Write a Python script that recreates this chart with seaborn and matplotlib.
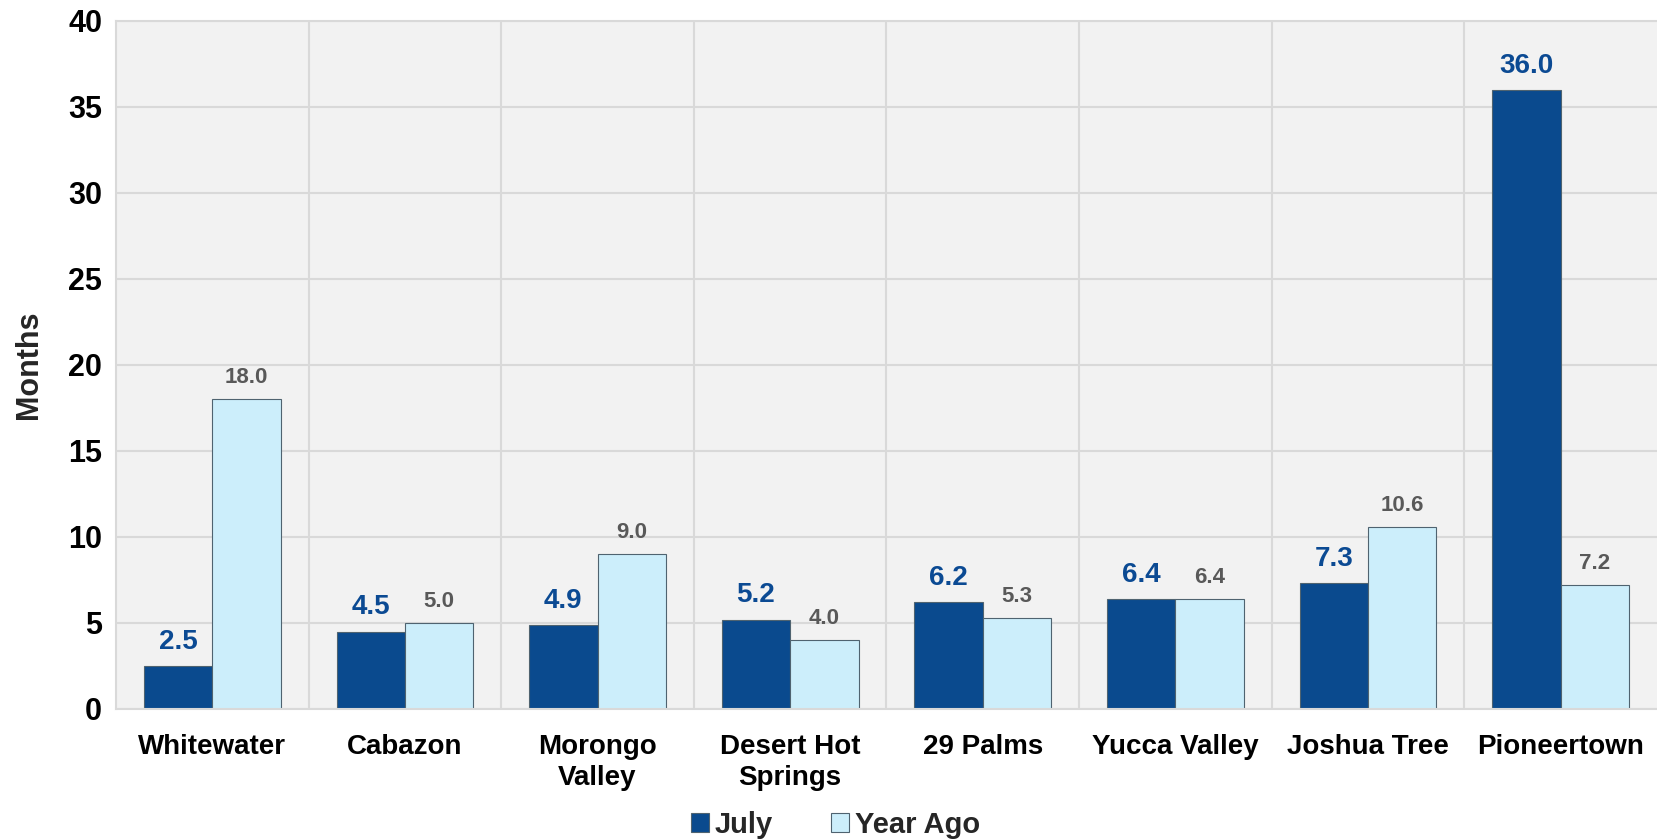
import matplotlib

matplotlib.use("Agg")
import matplotlib.pyplot as plt
import pandas as pd
import seaborn as sns

# --- data --------------------------------------------------------------------
areas = ["Whitewater", "Cabazon", "Morongo\nValley", "Desert Hot\nSprings",
         "29 Palms", "Yucca Valley", "Joshua Tree", "Pioneertown"]
july = [2.5, 4.5, 4.9, 5.2, 6.2, 6.4, 7.3, 36.0]
year_ago = [18.0, 5.0, 9.0, 4.0, 5.3, 6.4, 10.6, 7.2]
series = ["July", "Year Ago"]

NAVY = "#0A4A8E"
LIGHT = "#CCEEFB"
GRID = "#D9D9D9"

df = pd.DataFrame({
    "area": areas * 2,
    "series": [series[0]] * len(areas) + [series[1]] * len(areas),
    "months": july + year_ago,
})

sns.set_theme(style="whitegrid")
plt.rcParams["font.family"] = ["Liberation Sans", "DejaVu Sans"]
plt.rcParams["font.weight"] = "bold"

fig = plt.figure(figsize=(16.57, 8.39), dpi=100)
ax = fig.add_axes([0.070, 0.155, 0.930, 0.820])
ax.set_facecolor("#F2F2F2")

sns.barplot(
    data=df, x="area", y="months", hue="series", hue_order=series,
    palette=[NAVY, LIGHT], saturation=1, width=0.71, gap=0,
    edgecolor="#4F6370", linewidth=0.8, ax=ax,
)

# value labels: July in navy, Year Ago in grey
ax.bar_label(ax.containers[0], fmt="%.1f", padding=8, color="#0B4A93",
             fontsize=20, fontweight="bold")
ax.bar_label(ax.containers[1], fmt="%.1f", padding=8, color="#595959",
             fontsize=16, fontweight="bold")

ax.set_ylim(0, 40)
ax.set_yticks(range(0, 41, 5))
ax.set_xlim(-0.5, len(areas) - 0.5)
ax.set_xticks([i + 0.5 for i in range(len(areas) - 1)], minor=True)
ax.grid(False)
ax.grid(axis="y", which="major", color=GRID, linewidth=1.5)
ax.grid(axis="x", which="minor", color=GRID, linewidth=1.5)
ax.set_axisbelow(True)
ax.tick_params(axis="both", which="both", length=0)
ax.tick_params(axis="y", labelsize=22, pad=10)
ax.tick_params(axis="x", labelsize=20, pad=18)
for lab in ax.get_xticklabels() + ax.get_yticklabels():
    lab.set_fontweight("bold")
    lab.set_color("black")
for lab in ax.get_xticklabels():
    lab.set_linespacing(1.25)
ax.set_xlabel("")
ax.set_ylabel("Months", fontsize=22, fontweight="bold", labelpad=17)

for side in ("top", "left", "bottom"):
    ax.spines[side].set_color(GRID)
    ax.spines[side].set_linewidth(1.5)
ax.spines["right"].set_visible(False)

ax.legend(
    loc="upper center", bbox_to_anchor=(0.467, -0.11), ncol=2, frameon=False,
    handlelength=0.6, handleheight=0.6, handletextpad=0.2,
    columnspacing=2.0, prop={"weight": "bold", "size": 21},
)

fig.savefig("out.png", dpi=100)
plt.close(fig)
